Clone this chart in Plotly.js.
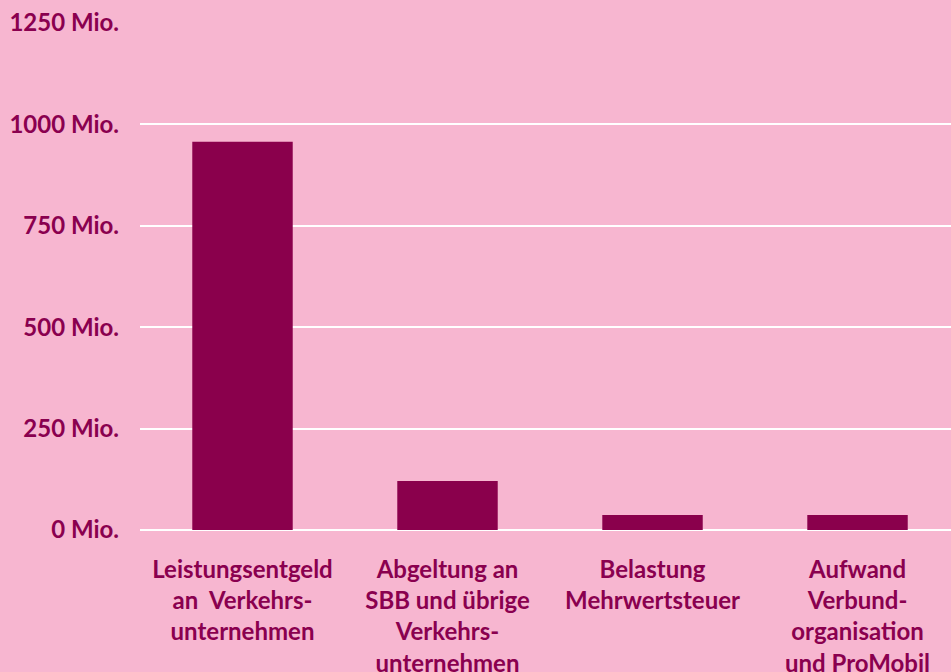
<!DOCTYPE html>
<html>
<head>
<meta charset="utf-8">
<script src="https://cdn.plot.ly/plotly-3.0.1.min.js"></script>
<style>
  html, body { margin: 0; padding: 0; background: #f7b6d0; }
  #chart { width: 951px; height: 672px; }
</style>
</head>
<body>
<div id="chart"></div>
<script>
// Kategorien (mit Zeilenumbrüchen wie im Original)
const categories = [
  'Leistungsentgeld<br>an\u00a0 Verkehrs-<br>unternehmen',
  'Abgeltung an<br>SBB und übrige<br>Verkehrs-<br>unternehmen',
  'Belastung<br>Mehrwertsteuer',
  'Aufwand<br>Verbund-<br>organisation<br>und ProMobil'
];

// Beträge in Mio. CHF
const values = [957, 121, 37, 37];

const yTicks = [0, 250, 500, 750, 1000, 1250];

const textColor = '#8a004f';
const bgColor = '#f7b6d0';

const data = [{
  type: 'bar',
  x: categories,
  y: values,
  marker: { color: '#8a004c' },
  width: 0.49,
  hoverinfo: 'none'
}];

const layout = {
  width: 951,
  height: 672,
  paper_bgcolor: bgColor,
  plot_bgcolor: bgColor,
  font: { family: 'Lato, sans-serif', size: 24, color: textColor, weight: 'bold' },
  margin: { t: 22, b: 142, l: 140, r: 0 },
  showlegend: false,

  xaxis: {
    type: 'category',
    range: [-0.5, 3.456],
    showgrid: false,
    showline: false,
    ticks: '',
    ticklabelstandoff: 23,
    tickfont: { family: 'Lato, sans-serif', size: 24, color: textColor, weight: 'bold' },
    fixedrange: true
  },

  yaxis: {
    range: [0, 1252],
    tickvals: yTicks,
    ticktext: yTicks.map(v => v + ' Mio.'),
    showgrid: true,
    gridcolor: '#ffffff',
    gridwidth: 2,
    zeroline: true,
    zerolinecolor: '#ffffff',
    zerolinewidth: 2,
    showline: false,
    ticks: '',
    ticklabelstandoff: 20,
    tickfont: { family: 'Lato, sans-serif', size: 24, color: textColor, weight: 'bold' },
    fixedrange: true
  }
};

const config = {
  displayModeBar: false,
  staticPlot: true
};

Plotly.newPlot('chart', data, layout, config);
</script>
</body>
</html>
